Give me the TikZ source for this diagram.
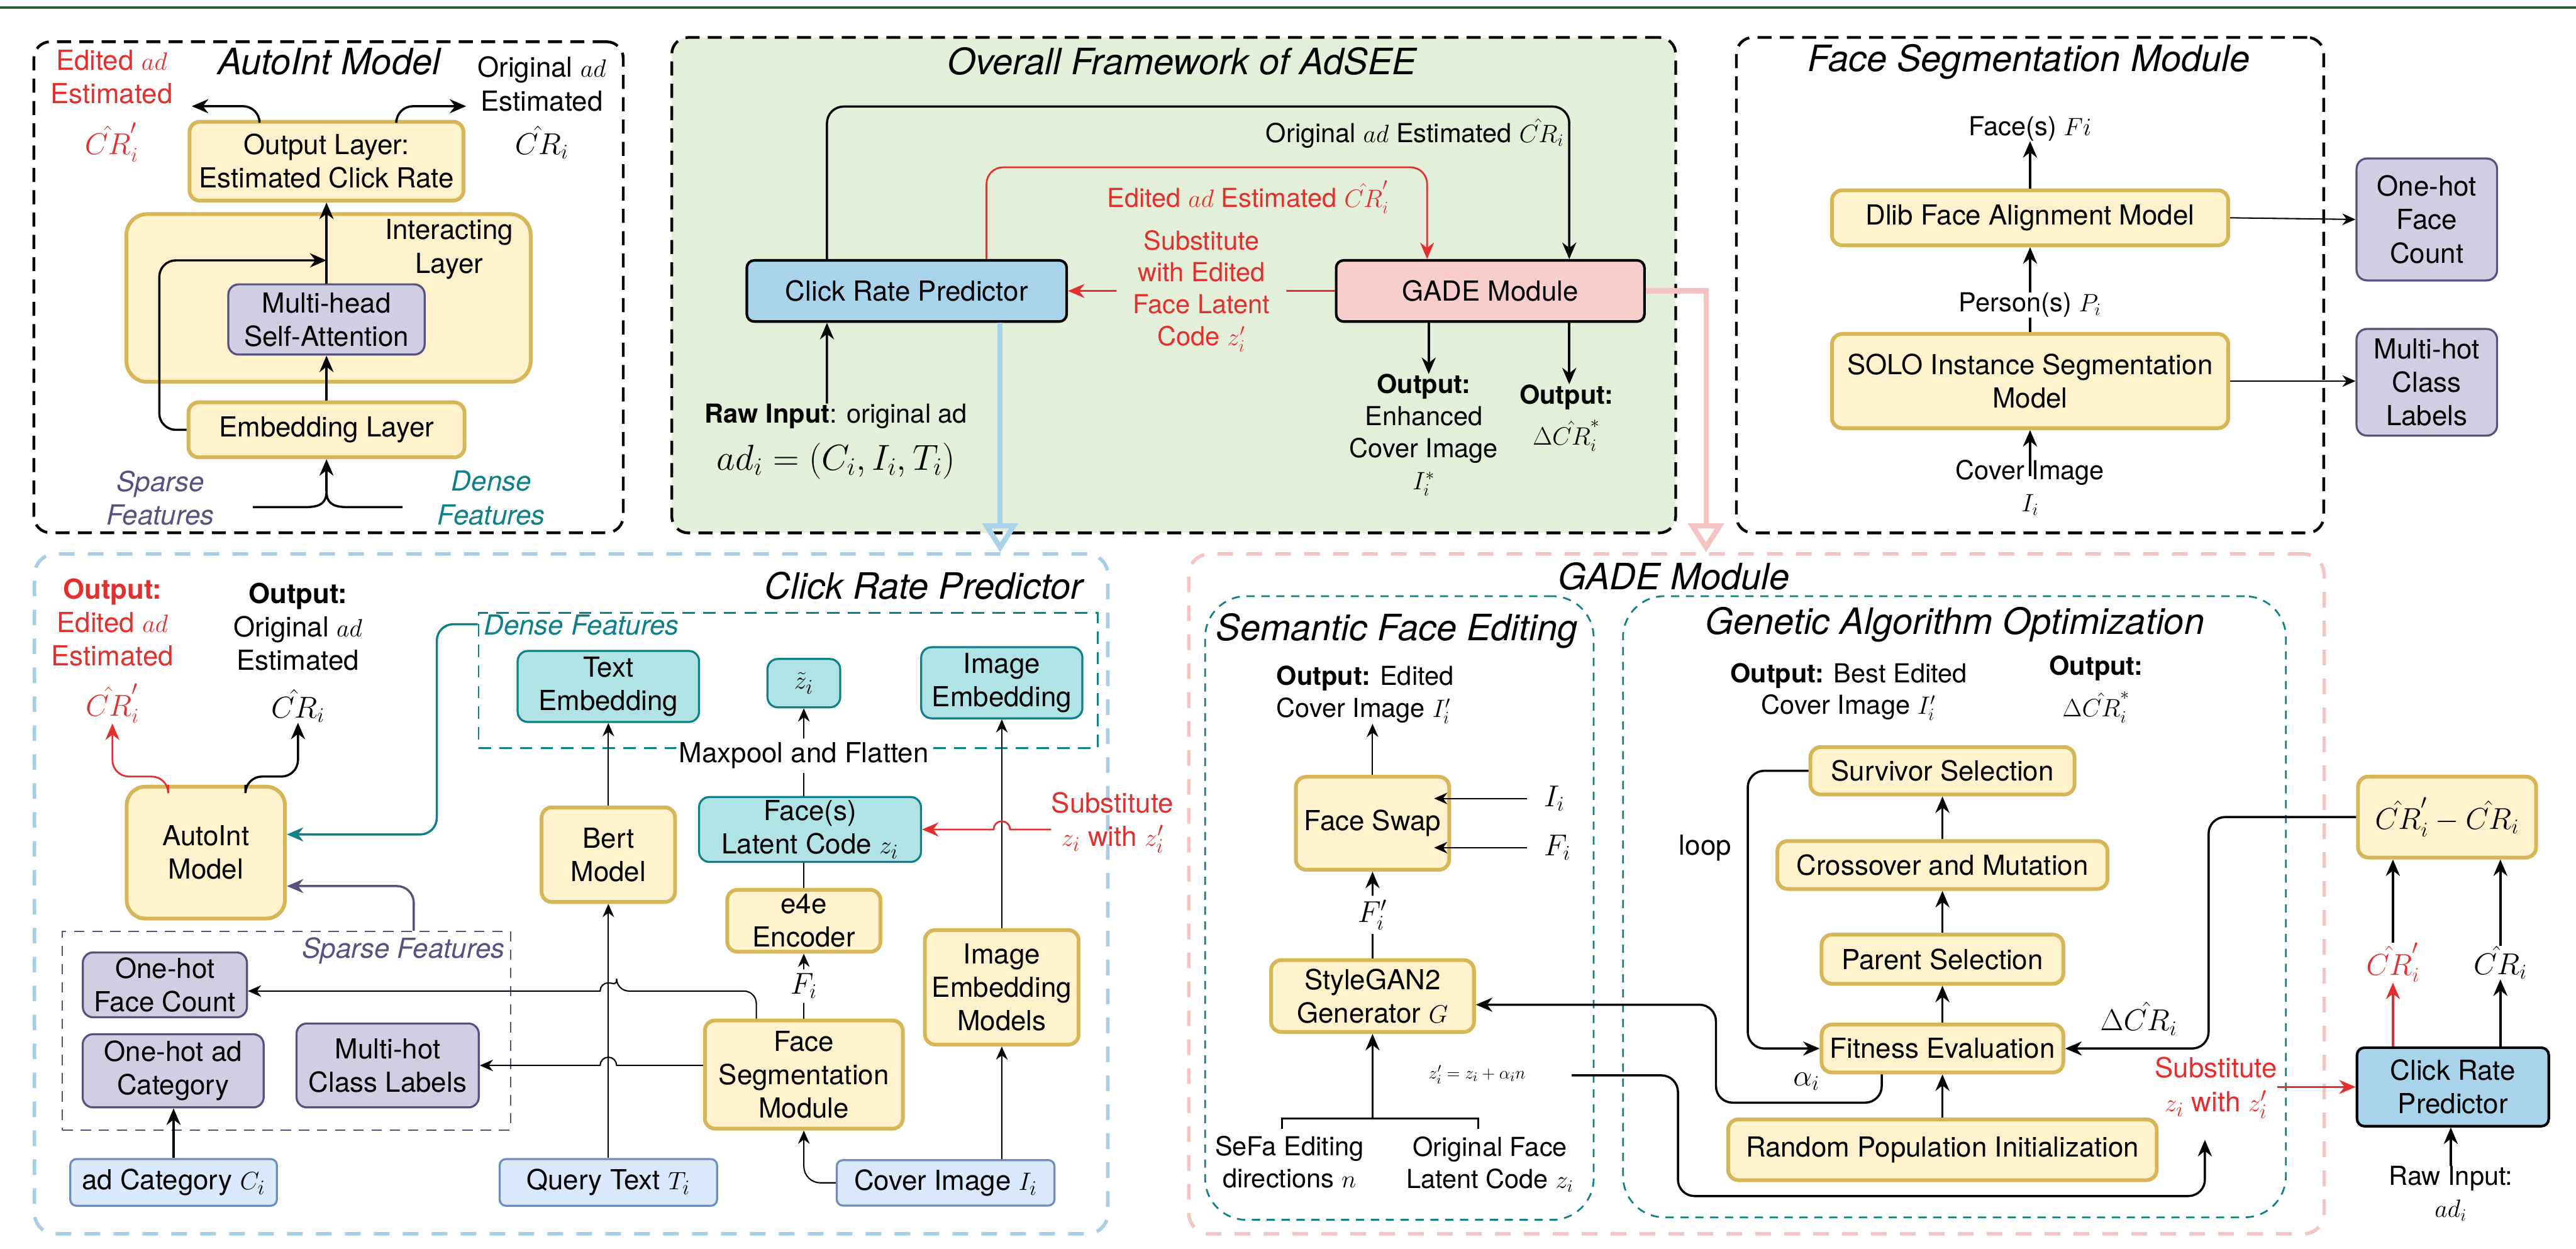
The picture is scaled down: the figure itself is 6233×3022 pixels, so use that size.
\documentclass[tikz,border=0pt]{standalone}
\usepackage{fontspec}
\setmainfont{TeX Gyre Heros}
\usetikzlibrary{arrows.meta}
\definecolor{ylfill}{HTML}{FFF2CC}
\definecolor{ylline}{HTML}{D6B656}
\definecolor{pufill}{HTML}{D0CEE2}
\definecolor{puline}{HTML}{56517E}
\definecolor{tefill}{HTML}{B0E3E6}
\definecolor{teline}{HTML}{0E8088}
\definecolor{infill}{HTML}{DAE8FC}
\definecolor{inedge}{HTML}{6C8EBF}
\definecolor{crpfill}{HTML}{A9D3EA}
\definecolor{gadefill}{HTML}{F8CECC}
\definecolor{grfill}{HTML}{E4EFDA}
\definecolor{rulegreen}{HTML}{2E5E3E}
\definecolor{edred}{HTML}{E3302F}
\definecolor{skyframe}{HTML}{A6CFE6}
\definecolor{pinkframe}{HTML}{F4C4C3}
\newcommand\titlefnt{\fontsize{25}{30}\selectfont\itshape}
\newcommand\boxfnt{\fontsize{19}{23}\selectfont}
\newcommand\lblfnt{\fontsize{18}{22}\selectfont}
\newcommand\mathfnt{\fontsize{22}{26}\selectfont}
\newcommand\smallfnt{\fontsize{13}{16}\selectfont}
\tikzset{sz/.style 2 args={minimum width=#1*0.1mm, minimum height=#2*0.1mm}}
\begin{document}
\begin{tikzpicture}[x=0.1mm, y=-0.1mm,
  every node/.style={inner sep=0pt, align=center},
  ybox/.style={draw=ylline, fill=ylfill, line width=2.6pt, rounded corners=2.5mm, font=\boxfnt},
  pbox/.style={draw=puline, fill=pufill, line width=1.4pt, rounded corners=2.5mm, font=\boxfnt},
  tbox/.style={draw=teline, fill=tefill, line width=1.4pt, rounded corners=2.5mm, font=\boxfnt},
  ibox/.style={draw=inedge, fill=infill, line width=1.4pt, rounded corners=1.5mm, font=\boxfnt},
  kbox/.style={draw=black, line width=1.8pt, rounded corners=1.8mm, font=\boxfnt},
  kframe/.style={draw=black, line width=1.9pt, dash pattern=on 3.4mm off 2mm, rounded corners=4mm},
  sframe/.style={draw=skyframe, line width=2.4pt, dash pattern=on 3.8mm off 3.2mm, rounded corners=5mm},
  pframe/.style={sframe, draw=pinkframe},
  gframe/.style={draw=teline, line width=1.2pt, dash pattern=on 2mm off 1.6mm, rounded corners=10mm},
  dframe/.style={draw=teline, line width=1.2pt, dash pattern=on 3mm off 2mm},
  spframe/.style={draw=puline, line width=0.9pt, dash pattern=on 2.5mm off 1.9mm},
  ttl/.style={font=\titlefnt},
  txt/.style={font=\boxfnt},
  lbl/.style={font=\lblfnt},
  mth/.style={font=\mathfnt},
  arr/.style={-{Stealth[length=4mm, width=3.4mm]}, line width=1.5pt, rounded corners=4mm},
  tarr/.style={-{Stealth[length=3.2mm, width=2.8mm]}, line width=0.9pt, rounded corners=4mm},
  big/.style={-{Triangle[open, length=7mm, width=8.5mm]}, line width=3.6pt},
  gap/.style={fill=white, inner sep=1mm}]
\useasboundingbox (0,0) rectangle (6233,3022);
\draw[rulegreen, line width=0.7mm] (0,18) -- (6233,18);
\node[kframe, sz={1426}{1188}] (AF) at (795,695) {};
\node[kframe, fill=grfill, sz={2429}{1199}] (OF) at (2840,690) {};
\node[kframe, sz={1421}{1199}] (SF) at (4912,690) {};
\node[sframe, sz={2597}{1645}] (CF) at (1382,2163) {};
\node[pframe, sz={2747}{1645}] (GF) at (4250,2163) {};
\node[gframe, sz={940}{1509}] (EF) at (3386,2197) {};
\node[gframe, sz={1604}{1503}] (AF2) at (4729,2194) {};
\node[dframe, sz={1498}{327}] (DF) at (1907,1646) {};
\node[spframe, sz={1084}{481}] (PF) at (693,2494) {};
\node[ttl] (AT) at (796,149) {AutoInt Model};
\node[ttl] (OT) at (2860,149) {Overall Framework of AdSEE};
\node[ttl] (ST) at (4909,149) {Face Segmentation Module};
\node[ttl] (CT) at (2235,1417) {Click Rate Predictor};
\node[ttl] (GT) at (4050,1395) {GADE Module};
\node[ttl] (ET) at (3380,1527) {Semantic Face Editing};
\node[ttl] (GAT) at (4730,1512) {Genetic Algorithm Optimization};

\node[txt, text=edred] (ED) at (270,186) {Edited $ad$\\Estimated};
\node[mth, text=edred] (EDc) at (270,344) {$\hat{CR}'_i$};
\node[txt] (OR) at (1311,203) {Original $ad$\\Estimated};
\node[mth] (ORc) at (1311,344) {$\hat{CR}_i$};
\node[ybox, sz={663}{191}] (OL) at (790,390) {Output Layer:\\Estimated Click Rate};
\node[ybox, rounded corners=5mm, sz={978}{406}] (IL) at (795,721) {};
\node[txt] (ILt) at (1087,603) {Interacting\\Layer};
\node[pbox, sz={475}{170}] (MH) at (790,773) {Multi-head\\Self-Attention};
\node[ybox, sz={668}{133}] (EL) at (790,1040) {Embedding Layer};
\node[txt, font=\boxfnt\itshape, text=puline] (SPt) at (388,1205) {Sparse\\Features};
\node[txt, font=\boxfnt\itshape, text=teline] (DNt) at (1189,1205) {Dense\\Features};
\coordinate (RJ) at (790,630);
\coordinate (OLl) at (464,257);
\coordinate (OLr) at (1128,257);
\coordinate (SPi) at (612,1227);
\coordinate (DNi) at (974,1227);
\coordinate (FM) at (790,1188);
\draw[arr] (EL) -- (MH);
\draw[arr] (MH) -- (OL);
\draw[arr] (EL.west) -- ++(-66,0) |- (RJ);
\draw[arr] ([xshift=-16.2mm]OL.north) |- (OLl);
\draw[arr] ([xshift=16.9mm]OL.north) |- (OLr);
\draw[line width=1.5pt] (SPi) -- (740,1227) .. controls (778,1227) and (790,1215) .. (FM) .. controls (790,1215) and (802,1227) .. (840,1227) -- (DNi);
\draw[arr] (FM) -- (EL.south);

\node[kbox, fill=crpfill, sz={774}{148}] (CP) at (2194,704) {Click Rate Predictor};
\node[kbox, fill=gadefill, sz={746}{148}] (GM) at (3606,704) {GADE Module};
\node[lbl, anchor=east] (ORt) at (3785,323) {Original $ad$ Estimated $\hat{CR}_i$};
\node[lbl, text=edred] (EDt) at (3020,477) {Edited $ad$ Estimated $\hat{CR}'_i$};
\node[lbl] (RI) at (2023,1007) {\textbf{Raw Input}: original ad};
\node[font=\fontsize{24}{28}\selectfont] (RM) at (2023,1115) {$ad_i = (C_i, I_i, T_i)$};
\node[lbl, anchor=north] (GO1) at (3445,905) {\textbf{Output:}\\Enhanced\\Cover Image\\$I_i^*$};
\node[lbl, anchor=north] (GO2) at (3790,930) {\textbf{Output:}\\[0.35em]$\Delta\hat{CR}_i^*$};
\draw[arr] ([xshift=-19.3mm]CP.north) -- ++(0,-369) -| ([xshift=19.1mm]GM.north);
\draw[arr, edred, line width=1.2pt] ([xshift=19.3mm]CP.north) -- ++(0,-222) -| ([xshift=-15.3mm]GM.north);
\draw[arr, edred, line width=1.2pt] (GM.west) -- node[lbl, text=edred, fill=grfill, inner xsep=4mm] (SUB) {Substitute\\with Edited\\Face Latent\\Code $z'_i$} (CP.east);
\draw[arr] ([xshift=-2.2mm]RI.north) -- ([xshift=-19.3mm]CP.south);
\draw[arr] ([xshift=-14.9mm]GM.south) -- ([xshift=-14.9mm]GM.south |- GO1.north);
\draw[arr] ([xshift=19.1mm]GM.south) -- ([xshift=19.1mm]GM.south |- GO2.north);

\node[ybox, sz={959}{133}] (DL) at (4912,527) {Dlib Face Alignment Model};
\node[ybox, sz={959}{228}] (SO) at (4912,922) {SOLO Instance Segmentation\\Model};
\node[lbl] (FF) at (4912,311) {Face(s) $Fi$};
\node[lbl] (PP) at (4912,738) {Person(s) $P_i$};
\node[lbl] (CI) at (4912,1180) {Cover Image\\$I_i$};
\node[pbox, sz={340}{295}] (OH) at (5872,531) {One-hot\\Face\\Count};
\node[pbox, sz={340}{258}] (MC) at (5872,925) {Multi-hot\\Class\\Labels};
\draw[arr] (DL) -- (FF);
\draw[arr] (PP) -- (DL);
\draw[line width=1.5pt] (SO) -- (PP);
\draw[arr] ([yshift=-4mm]CI.north) -- (SO.south);
\draw[tarr] (DL.east) -- (OH.west);
\draw[tarr] (SO.east) -- (SO.east -| MC.west);

\node[txt, text=edred] (O1) at (272,1506) {\textbf{Output:}\\Edited $ad$\\Estimated};
\node[mth, text=edred] (O1c) at (272,1702) {$\hat{CR}'_i$};
\node[txt] (O2) at (721,1517) {\textbf{Output:}\\Original $ad$\\Estimated};
\node[mth] (O2c) at (721,1708) {$\hat{CR}_i$};
\node[ybox, rounded corners=4.5mm, sz={383}{319}] (AB) at (498,2063) {AutoInt\\Model};
\node[txt, font=\boxfnt\itshape, text=teline, anchor=west] (DFl) at (1170,1512) {Dense Features};
\node[txt, font=\boxfnt\itshape, text=puline, anchor=east] (PFl) at (1222,2301) {Sparse Features};
\node[pbox, sz={397}{157}] (OF1) at (399,2383) {One-hot\\Face Count};
\node[pbox, sz={438}{177}] (OC) at (419,2591) {One-hot ad\\Category};
\node[pbox, sz={441}{203}] (MCL) at (938,2578) {Multi-hot\\Class Labels};
\node[ibox, sz={500}{113}] (AC) at (420,2861) {ad Category $C_i$};
\node[ibox, sz={526}{113}] (QT) at (1472,2861) {Query Text $T_i$};
\node[ibox, sz={527}{110}] (CV) at (2288,2862) {Cover Image $I_i$};
\node[ybox, sz={323}{229}] (BM) at (1472,2068) {Bert\\Model};
\node[tbox, sz={439}{172}] (TE) at (1472,1661) {Text\\Embedding};
\node[tbox, sz={176}{117}] (ZT) at (1945,1653) {$\tilde{z}_i$};
\node[tbox, sz={390}{172}] (IE) at (2424,1652) {Image\\Embedding};
\node[ybox, sz={479}{262}] (FSM) at (1945,2600) {Face\\Segmentation\\Module};
\node[ybox, sz={371}{150}] (E4) at (1945,2228) {e4e\\Encoder};
\node[tbox, sz={537}{157}] (FL) at (1960,2007) {Face(s)\\Latent Code $z_i$};
\node[ybox, sz={372}{277}] (IM) at (2424,2389) {Image\\Embedding\\Models};
\node[txt, text=edred] (SB) at (2692,1990) {Substitute\\$z_i$ with $z'_i$};
\coordinate (J1) at ([yshift=-1.5mm]OF1.east);
\draw[arr, edred, line width=1.2pt] ([xshift=-9.1mm]AB.north) -- ++(0,-20) -| (O1c.south);
\draw[arr] ([xshift=9.6mm]AB.north) -- ++(0,-20) -| (O2c.south);
\draw[arr, teline] ([yshift=-3mm]DF.north west) -- ++(-99,0) |- ([yshift=4.4mm]AB.east);
\draw[arr, puline] ([xshift=30.8mm]PF.north) |- ([yshift=-8.1mm]AB.east);
\draw[arr] (AC.north) -- (AC.north |- OC.south);
\draw[tarr] (QT) -- (BM);
\draw[tarr] (BM) -- (TE);
\draw[tarr] (CV.west) -| (FSM.south);
\draw[tarr] (FSM) -- node[gap, mth] (FIl) {$F_i$} (E4);
\draw[line width=0.9pt] (E4.north) -- (E4.north |- FL.south);
\draw[tarr] (FL.north -| ZT) -- node[gap, txt, pos=0.46] (MX) {Maxpool and Flatten} (ZT.south);
\draw[tarr] ([xshift=13.6mm]CV.north) -- (IM.south);
\draw[tarr] (IM) -- (IE);
\draw[tarr] ([xshift=-11.5mm]FSM.north) [rounded corners=3mm] |- ([xshift=2mm]QT.north |- J1) [sharp corners] arc[start angle=0, end angle=180, radius=2mm] -- (J1);
\draw[tarr, sharp corners] (FSM.west |- MCL.east) -- ([xshift=2mm]QT.north |- MCL.east) arc[start angle=0, end angle=180, radius=2mm] -- (MCL.east);
\draw[arr, edred, line width=1.2pt, sharp corners] (SB.west |- FL.east) -- ([xshift=2mm]IM.north |- FL.east) arc[start angle=0, end angle=180, radius=2mm] -- (FL.east);

\node[lbl, align=left, anchor=west] (SO1) at (3088,1681) {\textbf{Output:} Edited\\Cover Image $I'_i$};
\node[ybox, sz={371}{225}] (FW) at (3321,1992) {Face Swap};
\node[mth, anchor=west] (II) at (3735,1932) {$I_i$};
\node[mth, anchor=west] (FI) at (3735,2051) {$F_i$};
\node[ybox, sz={491}{174}] (SG) at (3321,2410) {StyleGAN2\\Generator $G$};
\node[lbl] (SE) at (3120,2812) {SeFa Editing\\directions $n$};
\node[lbl] (OZ) at (3605,2817) {Original Face\\Latent Code $z_i$};
\node[font=\smallfnt] (ZE) at (3574,2600) {$z'_i = z_i + \alpha_i n$};
\coordinate (BL) at (3102,2731);
\coordinate (BR) at (3577,2731);
\coordinate (BM2) at (3321,2706);
\coordinate (ZS) at (3803,2602);
\coordinate (ZT2) at (5335,2758);
\draw[tarr] (FW) -- (FW |- SO1.south);
\draw[tarr] ([xshift=-4.1mm]II.west) -- ([xshift=-4.1mm]II.west -| FW.east);
\draw[tarr] ([xshift=-4.1mm]FI.west) -- ([xshift=-4.1mm]FI.west -| FW.east);
\draw[arr] (SG) -- node[gap, mth] (FPl) {$F'_i$} (FW);
\draw[line width=1.5pt] (BL) -- ++(0,-25) -| (BR);
\draw[arr] (BM2) -- (SG.south);

\node[ybox, sz={639}{115}] (SS) at (4700,1865) {Survivor Selection};
\node[ybox, sz={799}{116}] (CM) at (4700,2093) {Crossover and Mutation};
\node[ybox, sz={585}{119}] (PS) at (4700,2321) {Parent Selection};
\node[ybox, sz={585}{116}] (FE) at (4700,2537) {Fitness Evaluation};
\node[ybox, sz={1037}{147}] (RP) at (4700,2782) {Random Population Initialization};
\node[txt] (LP) at (4126,2052) {loop};
\node[lbl] (GO3) at (4473,1674) {\textbf{Output:} Best Edited\\Cover Image $I'_i$};
\node[lbl] (GO4) at (5072,1668) {\textbf{Output:}\\[0.35em]$\Delta\hat{CR}_i^*$};
\node[mth] (AL) at (4371,2617) {$\alpha_i$};
\node[mth] (DL2) at (5175,2465) {$\Delta\hat{CR}_i$};
\draw[arr] (RP) -- (FE);
\draw[arr] (FE) -- (PS);
\draw[arr] (PS) -- (CM);
\draw[arr] (CM) -- (SS);
\draw[arr] (SS.west) -- ++(-147,0) |- (FE.west);
\draw[arr] ([xshift=-14.7mm]FE.south) |- (4152,2668) |- ([yshift=-2.1mm]SG.east);
\draw[arr] (ZS) -| (4060,2894) -| (ZT2);

\node[ybox, sz={431}{196}] (CD) at (5921,1977) {\mathfnt$\hat{CR}'_i - \hat{CR}_i$};
\node[kbox, fill=crpfill, sz={464}{190}] (CR2) at (5935,2630) {Click Rate\\Predictor};
\node[lbl] (RW) at (5930,2888) {Raw Input:\\$ad_i$};
\node[mth, text=edred] (C1) at (5790,2329) {$\hat{CR}'_i$};
\node[mth] (C2) at (6050,2329) {$\hat{CR}_i$};
\node[txt, text=edred] (SB2) at (5362,2632) {Substitute\\$z_i$ with $z'_i$};
\draw[arr] (RW.north) -- (RW.north |- CR2.south);
\draw[arr, edred] (C1.south |- CR2.north) -- (C1.south);
\draw[arr] (C2.south |- CR2.north) -- (C2.south);
\draw[arr] (C1.north) -- (C1.north |- CD.south);
\draw[arr] (C2.north) -- (C2.north |- CD.south);
\draw[arr] (CD.west) -- ++(-357,0) |- (FE.east);
\draw[arr, edred, line width=1.2pt] (SB2.east |- CR2.west) -- (CR2.west);

\coordinate (PK) at (4128,704);
\draw[big, crpfill] ([xshift=22.6mm]CP.south) -- ([xshift=22.6mm]CP.south |- CF.north);
\draw[big, pinkframe] (GM.east) -| (PK |- GF.north);
\end{tikzpicture}
\end{document}
